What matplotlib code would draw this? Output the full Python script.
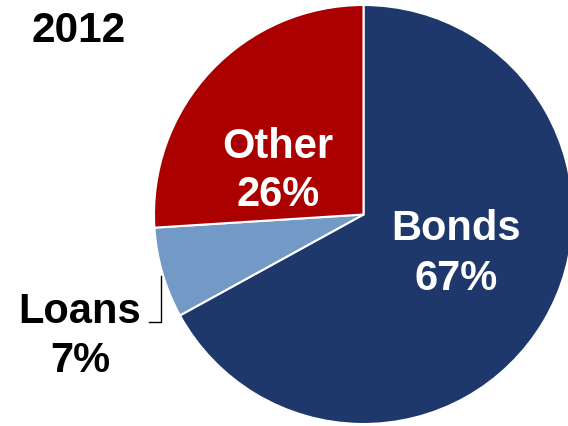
import matplotlib
matplotlib.use("Agg")
import matplotlib.pyplot as plt

categories = ["Bonds", "Loans", "Other"]
shares = [67, 7, 26]
colors = ["#1F386B", "#739AC7", "#AA0000"]
title = "2012"

W, H = 568, 427
fig = plt.figure(figsize=(W / 100, H / 100), dpi=100)
ax = fig.add_axes([0, 0, 1, 1])

cx, cy, r = 363.5, H - 215.5, 209.5
ax.pie(shares, colors=colors, startangle=90, counterclock=False,
       center=(cx, cy), radius=r,
       wedgeprops=dict(edgecolor="white", linewidth=1.5))
ax.set_xlim(0, W)
ax.set_ylim(0, H)
ax.set_aspect("equal")
ax.axis("off")

font = dict(family="Liberation Sans", weight="bold", fontsize=30)

ax.text(79, H - 42, title, ha="center", va="baseline", color="black",
        **dict(font, fontsize=30.5))

# (x centre, baseline of name line, baseline of percentage line, colour)
label_pos = {"Bonds": (456, 240, 290, "white"),
             "Loans": (80, 323, 372, "black"),
             "Other": (278, 158, 206, "white")}
for cat, val in zip(categories, shares):
    x, y1, y2, c = label_pos[cat]
    ax.text(x, H - y1, cat, ha="center", va="baseline", color=c, **font)
    ax.text(x, H - y2, f"{val}%", ha="center", va="baseline", color=c, **font)

# leader line for Loans
ax.plot([161, 161, 149], [H - 277, H - 323, H - 323], color="black", lw=1)

fig.savefig("out.png", dpi=100)
